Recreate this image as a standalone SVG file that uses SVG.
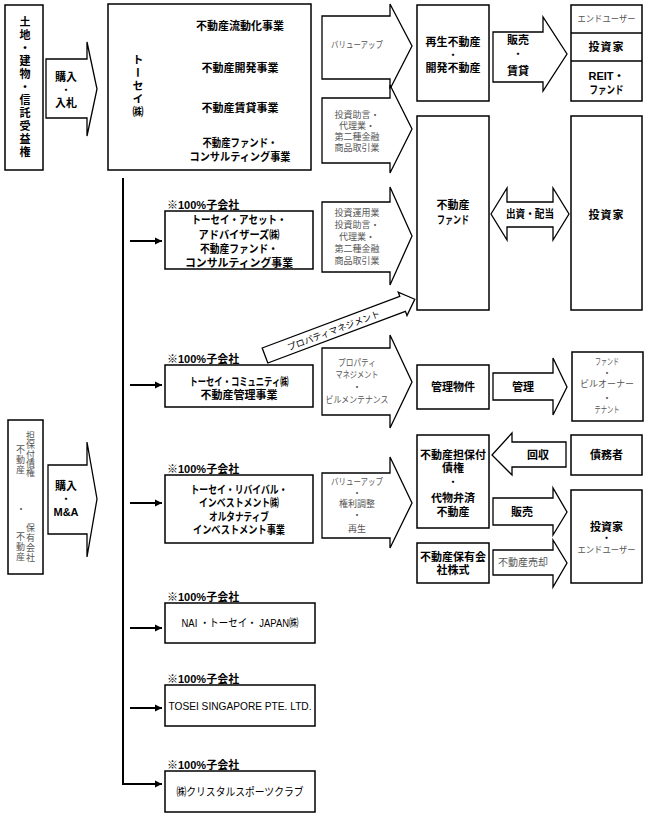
<svg xmlns="http://www.w3.org/2000/svg" width="648" height="818" viewBox="0 0 648 818">
<defs>
<style>
.box{fill:#fff;stroke:#000;stroke-width:1.5}
.arr{fill:#fff;stroke:#000;stroke-width:1.3;stroke-linejoin:miter}
.ln{fill:none;stroke:#000;stroke-width:2}
text{font-family:"Liberation Sans","Noto Sans CJK JP",sans-serif}
.t{font-size:11px;font-weight:bold;fill:#000;text-anchor:middle}
.n{font-size:11px;fill:#000;text-anchor:middle}
.d{font-size:11px;font-weight:normal;fill:#000;text-anchor:middle}
.g{font-size:9px;fill:#555;text-anchor:middle}
.l{font-size:11px;font-weight:bold;fill:#000;text-anchor:start}
.v{writing-mode:vertical-rl;text-anchor:start}
</style>
<marker id="ah" markerWidth="8" markerHeight="8" refX="7" refY="4" orient="auto" markerUnits="userSpaceOnUse"><path d="M0,0.5 L7,4 L0,7.5 z" fill="#000"/></marker>
</defs>
<rect width="648" height="818" fill="#fff"/>

<g id="connectors">
<path class="ln" d="M123,178 V784 H162" marker-end="url(#ah)"/>
<line class="ln" x1="130" y1="241" x2="162" y2="241" marker-end="url(#ah)"/>
<line class="ln" x1="130" y1="385" x2="162" y2="385" marker-end="url(#ah)"/>
<line class="ln" x1="130" y1="503" x2="162" y2="503" marker-end="url(#ah)"/>
<line class="ln" x1="130" y1="628" x2="162" y2="628" marker-end="url(#ah)"/>
<line class="ln" x1="130" y1="708" x2="162" y2="708" marker-end="url(#ah)"/>

<g id="arrow-buy1"><polygon class="arr" points="46,59 87,59 87,42 97,89 87,136 87,118 46,118"/>
<text class="t" x="66" y="81">購入</text><text class="d" x="66" y="94">・</text><text class="t" x="66" y="107">入札</text></g>
<g id="arrow-buy2"><polygon class="arr" points="48,465 87,465 87,442 97,499 87,557 87,534 48,534"/>
<text class="t" x="66" y="490">購入</text><text class="d" x="66" y="503">・</text><text class="t" x="66" y="516">M&amp;A</text></g>

<g id="arrow-valueup"><polygon class="arr" points="322,16 390,16 390,4 412,46 390,89 390,79 322,79"/>
<text class="g" x="357" y="48" textLength="52" lengthAdjust="spacingAndGlyphs">バリューアップ</text></g>
<g id="arrow-advice"><polygon class="arr" points="322,98 390,98 390,85 412,129 390,173 390,163 322,163"/>
<text class="g" x="357" y="118">投資助言・</text><text class="g" x="357" y="129">代理業・</text><text class="g" x="357" y="140">第二種金融</text><text class="g" x="357" y="151">商品取引業</text></g>
<g id="arrow-asset"><polygon class="arr" points="322,202 390,202 390,187 412,236 390,285 390,272 322,272"/>
<text class="g" x="357" y="216">投資運用業</text><text class="g" x="357" y="228">投資助言・</text><text class="g" x="357" y="240">代理業・</text><text class="g" x="357" y="252">第二種金融</text><text class="g" x="357" y="264">商品取引業</text></g>
<g id="arrow-pm" transform="translate(265,355.5) rotate(-20.6)"><polygon class="arr" points="0,-8 147,-8 147,-12.5 160,0 147,12.5 147,8 0,8"/>
<text x="73" y="4" style="font-size:9px;fill:#000;text-anchor:middle" textLength="98" lengthAdjust="spacingAndGlyphs">プロパティマネジメント</text></g>
<g id="arrow-community"><polygon class="arr" points="322,348 390,348 390,335 412,382 390,428 390,415 322,415"/>
<text class="g" x="357" y="366" textLength="38" lengthAdjust="spacingAndGlyphs">プロパティ</text><text class="g" x="357" y="378" textLength="43" lengthAdjust="spacingAndGlyphs">マネジメント</text><text class="g" x="357" y="390">・</text><text class="g" x="357" y="403" textLength="63" lengthAdjust="spacingAndGlyphs">ビルメンテナンス</text></g>
<g id="arrow-revival"><polygon class="arr" points="322,473 390,473 390,457 412,503 390,548 390,538 322,538"/>
<text class="g" x="357" y="485" textLength="52" lengthAdjust="spacingAndGlyphs">バリューアップ</text><text class="g" x="357" y="496">・</text><text class="g" x="357" y="507">権利調整</text><text class="g" x="357" y="518">・</text><text class="g" x="357" y="532">再生</text></g>

<g id="arrow-sell"><polygon class="arr" points="493,32 543,32 543,17 567,54 543,91 543,82 493,82"/>
<text class="t" x="518" y="44">販売</text><text class="d" x="518" y="58">・</text><text class="t" x="518" y="75">賃貸</text></g>
<g id="arrow-invest"><polygon class="arr" points="491,214 507,188 507,202 553,202 553,188 569,214 553,240 553,227 507,227 507,240"/>
<text class="t" x="530" y="218" textLength="48" lengthAdjust="spacingAndGlyphs">出資・配当</text></g>
<g id="arrow-manage"><polygon class="arr" points="493,373 553,373 553,358 567,387 553,415 553,400 493,400"/>
<text class="t" x="523" y="391">管理</text></g>
<g id="arrow-collect"><polygon class="arr" points="566,442 512,442 512,433 492,455 512,475 512,467 566,467"/>
<text class="t" x="538" y="459">回収</text></g>
<g id="arrow-sell2"><polygon class="arr" points="493,498 553,498 553,488 567,512 553,535 553,525 493,525"/>
<text class="t" x="522" y="516">販売</text></g>
<g id="arrow-sale"><polygon class="arr" points="493,550 553,550 553,540 567,563 553,587 553,575 493,575"/>
<text class="g" x="523" y="566" style="font-size:10px" textLength="50">不動産売却</text></g>
</g>

<g id="src-land"><rect class="box" x="5" y="5" width="38" height="165"/>
<text class="t v" x="24" y="16" style="letter-spacing:2px">土地・建物・信託受益権</text></g>

<g id="src-debt"><rect class="box" x="8" y="420" width="35" height="154"/>
<text class="g v" x="30" y="431" style="letter-spacing:0.3px">担保付債権</text>
<text class="g v" x="20" y="445" style="letter-spacing:1px">不動産</text>
<text class="g" x="21" y="512">・</text>
<text class="g v" x="30" y="523" style="letter-spacing:1px">保有会社</text>
<text class="g v" x="20" y="532" style="letter-spacing:1px">不動産</text></g>

<g id="tosei"><rect class="box" x="108" y="4" width="203" height="166"/>
<text class="t v" x="137" y="54" style="letter-spacing:2px">トーセイ㈱</text>
<text class="t" x="240" y="30">不動産流動化事業</text>
<text class="t" x="240" y="72">不動産開発事業</text>
<text class="t" x="240" y="112">不動産賃貸事業</text>
<text class="t" x="240" y="147" textLength="75" lengthAdjust="spacingAndGlyphs">不動産ファンド・</text>
<text class="t" x="240" y="161" textLength="101" lengthAdjust="spacingAndGlyphs">コンサルティング事業</text></g>

<g id="sub-asset"><text class="l" x="167" y="209">※100%子会社</text>
<rect class="box" x="165" y="211" width="148" height="58"/>
<text class="t" x="239" y="224" textLength="95" lengthAdjust="spacingAndGlyphs">トーセイ・アセット・</text>
<text class="t" x="239" y="239" textLength="81" lengthAdjust="spacingAndGlyphs">アドバイザーズ㈱</text>
<text class="t" x="239" y="253" textLength="78" lengthAdjust="spacingAndGlyphs">不動産ファンド・</text>
<text class="t" x="239" y="267" textLength="108" lengthAdjust="spacingAndGlyphs">コンサルティング事業</text></g>

<g id="sub-community"><text class="l" x="167" y="363">※100%子会社</text>
<rect class="box" x="165" y="365" width="148" height="42"/>
<text class="t" x="239" y="386" textLength="99" lengthAdjust="spacingAndGlyphs">トーセイ・コミュニティ㈱</text>
<text class="t" x="239" y="399">不動産管理事業</text></g>

<g id="sub-revival"><text class="l" x="167" y="473">※100%子会社</text>
<rect class="box" x="165" y="475" width="148" height="68"/>
<text class="t" x="239" y="494" textLength="97" lengthAdjust="spacingAndGlyphs">トーセイ・リバイバル・</text>
<text class="t" x="239" y="507" textLength="80" lengthAdjust="spacingAndGlyphs">インベストメント㈱</text>
<text class="t" x="239" y="521" textLength="60" lengthAdjust="spacingAndGlyphs">オルタナティブ</text>
<text class="t" x="239" y="534" textLength="92" lengthAdjust="spacingAndGlyphs">インベストメント事業</text></g>

<g id="sub-nai"><text class="l" x="167" y="601">※100%子会社</text>
<rect class="box" x="165" y="603" width="150" height="40"/>
<text class="n" x="240" y="627" textLength="117" lengthAdjust="spacingAndGlyphs">NAI ・トーセイ・ JAPAN㈱</text></g>

<g id="sub-singapore"><text class="l" x="167" y="683">※100%子会社</text>
<rect class="box" x="165" y="685" width="150" height="41"/>
<text class="n" x="240" y="710" textLength="143" lengthAdjust="spacingAndGlyphs">TOSEI SINGAPORE PTE. LTD.</text></g>

<g id="sub-crystal"><text class="l" x="167" y="769">※100%子会社</text>
<rect class="box" x="165" y="771" width="150" height="41"/>
<text class="n" x="240" y="796" textLength="127" lengthAdjust="spacingAndGlyphs">㈱クリスタルスポーツクラブ</text></g>

<g id="regen"><rect class="box" x="417" y="5" width="72" height="96"/>
<text class="t" x="453" y="46">再生不動産</text><text class="d" x="453" y="59">・</text><text class="t" x="453" y="72">開発不動産</text></g>

<g id="buyers"><rect class="box" x="571" y="5" width="71" height="96"/>
<line x1="571" y1="33" x2="642" y2="33" stroke="#000" stroke-width="1.5"/>
<line x1="571" y1="61" x2="642" y2="61" stroke="#000" stroke-width="1.5"/>
<text class="g" x="606.5" y="22" textLength="58" lengthAdjust="spacingAndGlyphs">エンドユーザー</text>
<text class="t" x="606.5" y="51" style="letter-spacing:1px">投資家</text>
<text class="t" x="606.5" y="80">REIT・</text>
<text class="t" x="606.5" y="94" textLength="34" lengthAdjust="spacingAndGlyphs">ファンド</text></g>

<g id="fund"><rect class="box" x="417" y="116" width="72" height="194"/>
<text class="t" x="453" y="209">不動産</text>
<text class="t" x="453" y="224" textLength="32" lengthAdjust="spacingAndGlyphs">ファンド</text></g>

<g id="investor"><rect class="box" x="571" y="116" width="71" height="194"/>
<text class="t" x="606.5" y="219" style="letter-spacing:1px">投資家</text></g>

<g id="managed"><rect class="box" x="417" y="365" width="72" height="44"/>
<text class="t" x="453" y="391">管理物件</text></g>

<g id="owners"><rect class="box" x="572" y="352" width="71" height="69"/>
<text class="g" x="607" y="365" textLength="24" lengthAdjust="spacingAndGlyphs">ファンド</text>
<text class="g" x="607" y="376">・</text>
<text class="g" x="607" y="387" textLength="54" lengthAdjust="spacingAndGlyphs">ビルオーナー</text>
<text class="g" x="607" y="401">・</text>
<text class="g" x="607" y="413" textLength="25" lengthAdjust="spacingAndGlyphs">テナント</text></g>

<g id="debt"><rect class="box" x="417" y="435" width="72" height="93"/>
<text class="t" x="453" y="459">不動産担保付</text>
<text class="t" x="453" y="472">債権</text>
<text class="d" x="453" y="486">・</text>
<text class="t" x="453" y="502">代物弁済</text>
<text class="t" x="453" y="516">不動産</text></g>

<g id="debtor"><rect class="box" x="571" y="435" width="71" height="40"/>
<text class="t" x="606.5" y="459">債務者</text></g>

<g id="investor2"><rect class="box" x="571" y="490" width="71" height="93"/>
<text class="t" x="606.5" y="531">投資家</text>
<text class="d" x="606.5" y="542">・</text>
<text class="g" x="606.5" y="553" textLength="58" lengthAdjust="spacingAndGlyphs">エンドユーザー</text></g>

<g id="shares"><rect class="box" x="417" y="543" width="72" height="40"/>
<text class="t" x="453" y="561">不動産保有会</text>
<text class="t" x="453" y="574">社株式</text></g>
</svg>
